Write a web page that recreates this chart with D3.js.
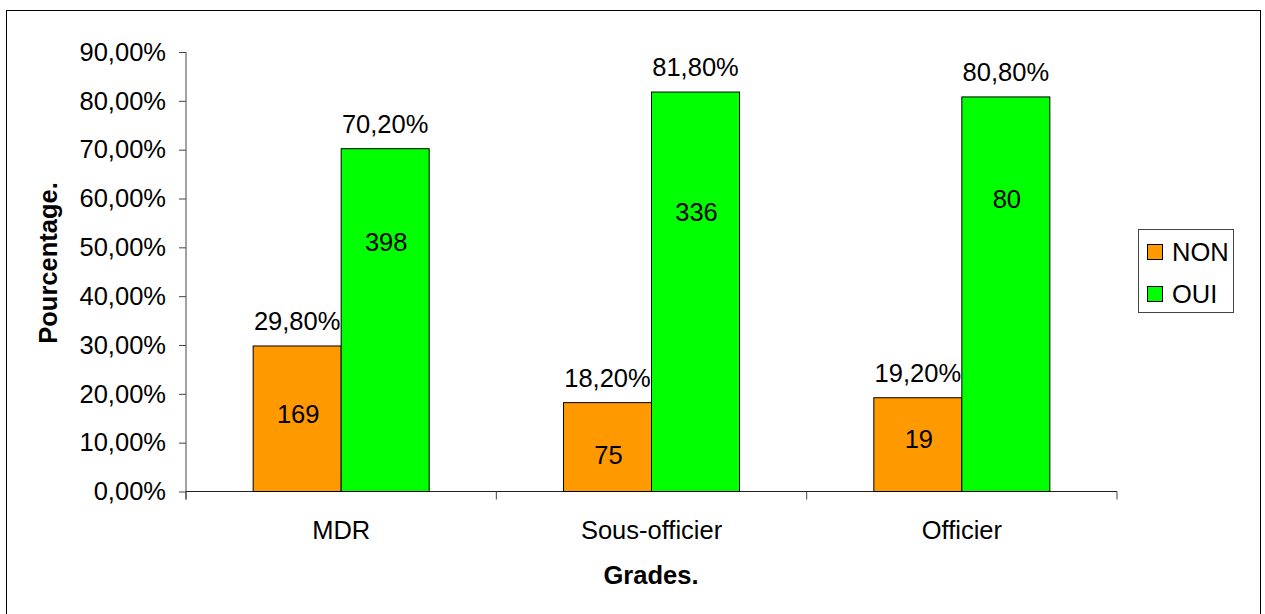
<!DOCTYPE html>
<html>
<head>
<meta charset="utf-8">
<script src="https://cdn.jsdelivr.net/npm/d3@7"></script>
<style>
  html, body { margin: 0; padding: 0; background: #fff; }
  svg { display: block; font-family: "Liberation Sans", Arial, sans-serif; }
</style>
</head>
<body>
<svg id="chart" width="1265" height="614"></svg>
<script>
// ---- data ----
const categories = ["MDR", "Sous-officier", "Officier"];
const seriesNames = ["NON", "OUI"];
const nonValues = [29.8, 18.2, 19.2];
const ouiValues = [70.2, 81.8, 80.8];
const nonCounts = [169, 75, 19];
const ouiCounts = [398, 336, 80];
// where the count labels sit (in % units of the y axis)
const nonCountAt = [15.8, 7.4, 10.7];
const ouiCountAt = [51.1, 57.3, 59.9];
const yTicks = [0, 10, 20, 30, 40, 50, 60, 70, 80, 90];
const colors = { NON: "#FF9900", OUI: "#00FF00" };

const fmtPct = v => v.toFixed(2).replace(".", ",") + "%";

(function () {
const svg = d3.select("#chart");
const FS = 25.5;

// outer frame
svg.append("rect")
  .attr("x", 6.5).attr("y", 10.5)
  .attr("width", 1254).attr("height", 610)
  .attr("fill", "#fff").attr("stroke", "#000").attr("stroke-width", 1);

const pLeft = 186, pRight = 1117, pTop = 52, pBottom = 491.5;

const x = d3.scaleBand().domain(categories).range([pLeft, pRight]).padding(0);
const bw = x.bandwidth();
const barW = bw * 0.2836;
const x1 = d3.scaleBand().domain(seriesNames)
  .range([(bw - 2 * barW) / 2, (bw + 2 * barW) / 2]).padding(0);
const y = d3.scaleLinear().domain([0, 90]).range([pBottom, pTop]);

// y axis
const yAxis = svg.append("g").attr("transform", `translate(${pLeft},0)`)
  .call(d3.axisLeft(y).tickValues(yTicks).tickFormat(fmtPct).tickSize(7).tickPadding(13));
yAxis.select(".domain").attr("stroke", "#444").attr("d", `M0,${pTop}V${pBottom + 8}`);
yAxis.selectAll(".tick line").attr("stroke", "#444");
yAxis.selectAll("text").attr("font-size", FS).attr("fill", "#000")
  .attr("font-family", "Liberation Sans, Arial, sans-serif");

// x axis
const xAxis = svg.append("g").attr("transform", `translate(0,${pBottom})`)
  .call(d3.axisBottom(x).tickSize(0).tickPadding(29));
xAxis.select(".domain").attr("stroke", "#222").attr("d", `M${pLeft},0H${pRight}`);
xAxis.selectAll("text").attr("font-size", FS).attr("fill", "#000")
  .attr("font-family", "Liberation Sans, Arial, sans-serif");
// category separator ticks
const bounds = categories.map(c => x(c)).concat([pRight]);
svg.append("g").selectAll("line").data(bounds).join("line")
  .attr("x1", d => d).attr("x2", d => d)
  .attr("y1", pBottom).attr("y2", pBottom + 8)
  .attr("stroke", "#444");

// bars
const rows = categories.map((c, i) => ({
  cat: c,
  items: [
    { s: "NON", v: nonValues[i], n: nonCounts[i], at: nonCountAt[i] },
    { s: "OUI", v: ouiValues[i], n: ouiCounts[i], at: ouiCountAt[i] }
  ]
}));

const g = svg.append("g").selectAll("g").data(rows).join("g")
  .attr("transform", d => `translate(${x(d.cat)},0)`);

g.selectAll("rect").data(d => d.items).join("rect")
  .attr("x", d => x1(d.s))
  .attr("y", d => y(d.v))
  .attr("width", x1.bandwidth())
  .attr("height", d => y(0) - y(d.v))
  .attr("fill", d => colors[d.s])
  .attr("stroke", "#000").attr("stroke-width", 1);

// percent labels
g.selectAll("text.pct").data(d => d.items).join("text")
  .attr("class", "pct")
  .attr("x", d => x1(d.s) + x1.bandwidth() / 2)
  .attr("y", d => y(d.v) - 16)
  .attr("text-anchor", "middle")
  .attr("font-size", FS)
  .attr("fill", "#000")
  .text(d => fmtPct(d.v));

// count labels
g.selectAll("text.cnt").data(d => d.items).join("text")
  .attr("class", "cnt")
  .attr("x", d => x1(d.s) + x1.bandwidth() / 2 + 1)
  .attr("y", d => y(d.at))
  .attr("dy", "0.35em")
  .attr("text-anchor", "middle")
  .attr("font-size", FS)
  .attr("fill", "#000")
  .text(d => d.n);

// axis titles
svg.append("text")
  .attr("x", 651).attr("y", 584)
  .attr("text-anchor", "middle")
  .attr("font-size", FS).attr("font-weight", "bold")
  .text("Grades.");

svg.append("text")
  .attr("transform", `translate(57,263) rotate(-90)`)
  .attr("text-anchor", "middle")
  .attr("font-size", FS).attr("font-weight", "bold")
  .text("Pourcentage.");

// legend
const lg = svg.append("g");
lg.append("rect")
  .attr("x", 1138.5).attr("y", 229.5).attr("width", 95).attr("height", 83)
  .attr("fill", "#fff").attr("stroke", "#444");
seriesNames.forEach((s, i) => {
  const yy = 244 + i * 42;
  lg.append("rect")
    .attr("x", 1147.5).attr("y", yy + 0.5).attr("width", 15).attr("height", 15)
    .attr("fill", colors[s]).attr("stroke", "#000");
  lg.append("text")
    .attr("x", 1172).attr("y", yy + 17)
    .attr("font-size", FS).attr("fill", "#000")
    .text(s);
});
})();
</script>
</body>
</html>
